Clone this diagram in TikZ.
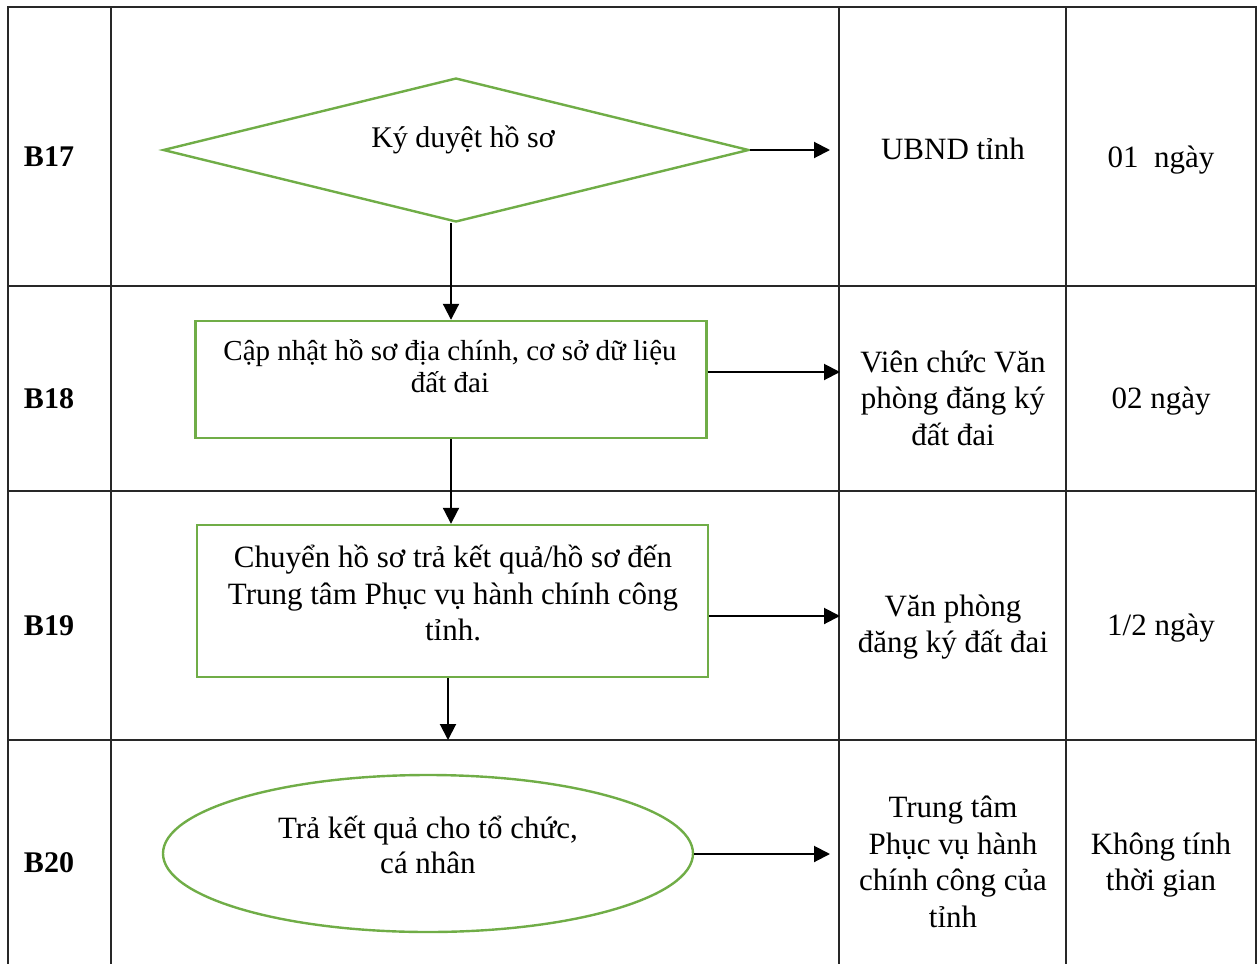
\documentclass[tikz,border=0pt]{standalone}
\usepackage{fontspec}
\setmainfont{Liberation Serif}
\usetikzlibrary{shapes.geometric,arrows.meta}
\definecolor{flowgreen}{RGB}{112,173,71}
\definecolor{gridgray}{RGB}{40,40,40}
\tikzset{
  grid line/.style={draw=gridgray,line width=1.4pt},
  stepshape/.style={draw=flowgreen,line width=2.4pt,inner sep=0pt},
  flow/.style={draw=black,line width=2pt,-{Triangle[length=16pt,width=16pt]}},
  stepname/.style={font=\fontsize{30}{36}\selectfont\bfseries},
  celltext/.style={align=center,font=\fontsize{31}{36.5}\selectfont},
}

\begin{document}
\begin{tikzpicture}[x=1pt,y=-1pt]
    \useasboundingbox (0,0) rectangle (1259,964);

    % Table grid
    \draw[grid line] (8,964) -- (8,7) -- (1256,7) -- (1256,964);
    \foreach \x in {111,839,1066} {
        \draw[grid line] (\x,7) -- (\x,964);
    }
    \foreach \y in {286,491,740} {
        \draw[grid line] (8,\y) -- (1256,\y);
    }

    % Step names
    \node[stepname] (n17) at (49,157) {B17};
    \node[stepname] (n18) at (49,399) {B18};
    \node[stepname] (n19) at (49,626) {B19};
    \node[stepname] (n20) at (49,863) {B20};

    % Flow shapes
    \node[stepshape,diamond,minimum width=586pt,minimum height=144pt] (b17) at (456,150) {};
    \node[stepshape,rectangle,minimum width=511pt,minimum height=117pt] (b18) at (451,379.5) {};
    \node[stepshape,rectangle,minimum width=511pt,minimum height=152pt] (b19) at (452.5,601) {};
    \node[stepshape,ellipse,minimum width=530pt,minimum height=157pt] (b20) at (428,853.5) {};

    % Texts in the shapes
    \node[celltext,font=\fontsize{30}{36}\selectfont] (t17) at (463,140) {Ký duyệt hồ sơ};
    \node[celltext,font=\fontsize{29}{32}\selectfont] (t18) at (450,366) {Cập nhật hồ sơ địa chính, cơ sở dữ liệu\\đất đai};
    \node[celltext] (t19) at (453,593) {Chuyển hồ sơ trả kết quả/hồ sơ đến\\Trung tâm Phục vụ hành chính công\\tỉnh.};
    \node[celltext,font=\fontsize{31}{35}\selectfont] (t20) at (428,845) {Trả kết quả cho tổ chức,\\cá nhân};

    % Who and how long
    \node[celltext] (u17) at (953,149) {UBND tỉnh};
    \node[celltext] (d17) at (1161,160) {01\ \ ngày};
    \node[celltext] (u18) at (953,398) {Viên chức Văn\\phòng đăng ký\\đất đai};
    \node[celltext] (d18) at (1161,401) {02 ngày};
    \node[celltext] (u19) at (953,627) {Văn phòng\\đăng ký đất đai};
    \node[celltext] (d19) at (1161,628) {1/2 ngày};
    \node[celltext] (u20) at (953,862) {Trung tâm\\Phục vụ hành\\chính công của\\tỉnh};
    \node[celltext] (d20) at (1161,865) {Không tính\\thời gian};

    % Arrows
    \coordinate (e17) at (830,150);
    \coordinate (e18) at (840,372);
    \coordinate (e19) at (840,616);
    \coordinate (e20) at (830,854);
    \coordinate (e19down) at (448,740);
    \draw[flow] (b17.east) -- (e17);
    \draw[flow] (b18.east |- e18) -- (e18);
    \draw[flow] (b19.east |- e19) -- (e19);
    \draw[flow] (b20.east |- e20) -- (e20);
    \draw[flow] (b17.south -| b18.north) -- (b18.north);
    \draw[flow] (b18.south) -- (b18.south |- b19.north);
    \draw[flow] (b19.south -| e19down) -- (e19down);
\end{tikzpicture}
\end{document}
